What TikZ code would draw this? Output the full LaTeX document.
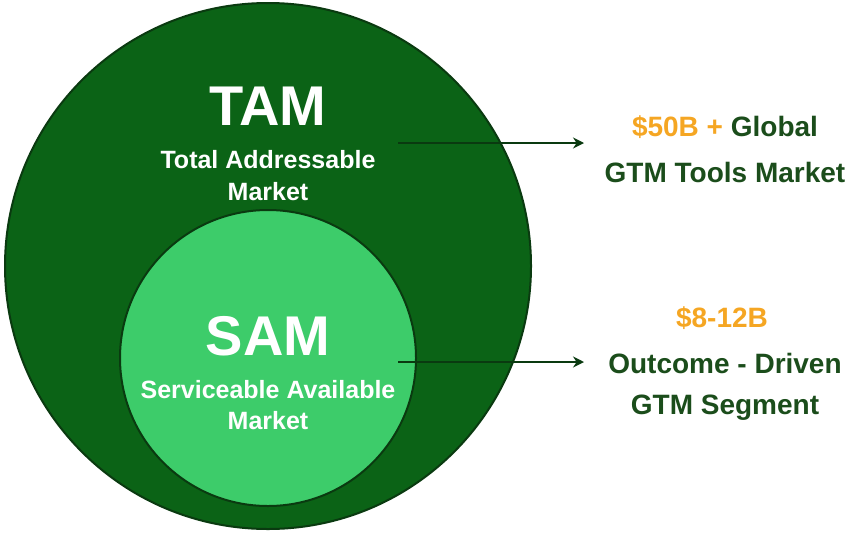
\documentclass[tikz,border=0pt]{standalone}
\usepackage{fontspec}
\setmainfont{Liberation Sans}
\usetikzlibrary{arrows.meta}
\definecolor{dk}{HTML}{0B6316}
\definecolor{lt}{HTML}{3DCC6A}
\definecolor{edge}{HTML}{0A3A10}
\definecolor{org}{HTML}{F5A623}
\definecolor{txt}{HTML}{1B4D1B}
\begin{document}
\begin{tikzpicture}[x=1pt,y=-1pt,
  lbl/.style={font=\bfseries\fontsize{25}{28}\selectfont,text=white,inner sep=0},
  big/.style={font=\bfseries\fontsize{56}{60}\selectfont,text=white,inner sep=0},
  rt/.style={font=\bfseries\fontsize{28}{32}\selectfont,text=txt,inner sep=0},
  arr/.style={draw=edge,line width=2.2pt,-{Stealth[length=11pt,width=11pt]}}]
\useasboundingbox (0,0) rectangle (866,533);
\node[circle,fill=dk,draw=edge,line width=2pt,minimum size=526pt,inner sep=0] (tamc) at (268,266) {};
\node[circle,fill=lt,draw=edge,line width=2pt,minimum size=296pt,inner sep=0] (samc) at (268,358) {};
\node[big] (tam) at (268,106) {TAM};
\node[lbl] (tam1) at (268,160) {Total Addressable};
\node[lbl] (tam2) at (268,192) {Market};
\node[big] (sam) at (268,336) {SAM};
\node[lbl] (sam1) at (268,390) {Serviceable Available};
\node[lbl] (sam2) at (268,421) {Market};
\coordinate (a1) at (398,143);
\coordinate (a2) at (398,362);
\node[rt] (r1) at (725,127) {\textcolor{org}{\$50B +} Global};
\node[rt] (r2) at (725,172) {GTM Tools Market};
\node[rt,text=org] (r3) at (722,318) {\$8-12B};
\node[rt] (r4) at (725,363) {Outcome - Driven};
\node[rt] (r5) at (725,408) {GTM Segment};
\coordinate (b1) at (584,143);
\coordinate (b2) at (584,362);
\draw[arr] (a1) -- (b1);
\draw[arr] (a2) -- (b2);
\end{tikzpicture}
\end{document}
